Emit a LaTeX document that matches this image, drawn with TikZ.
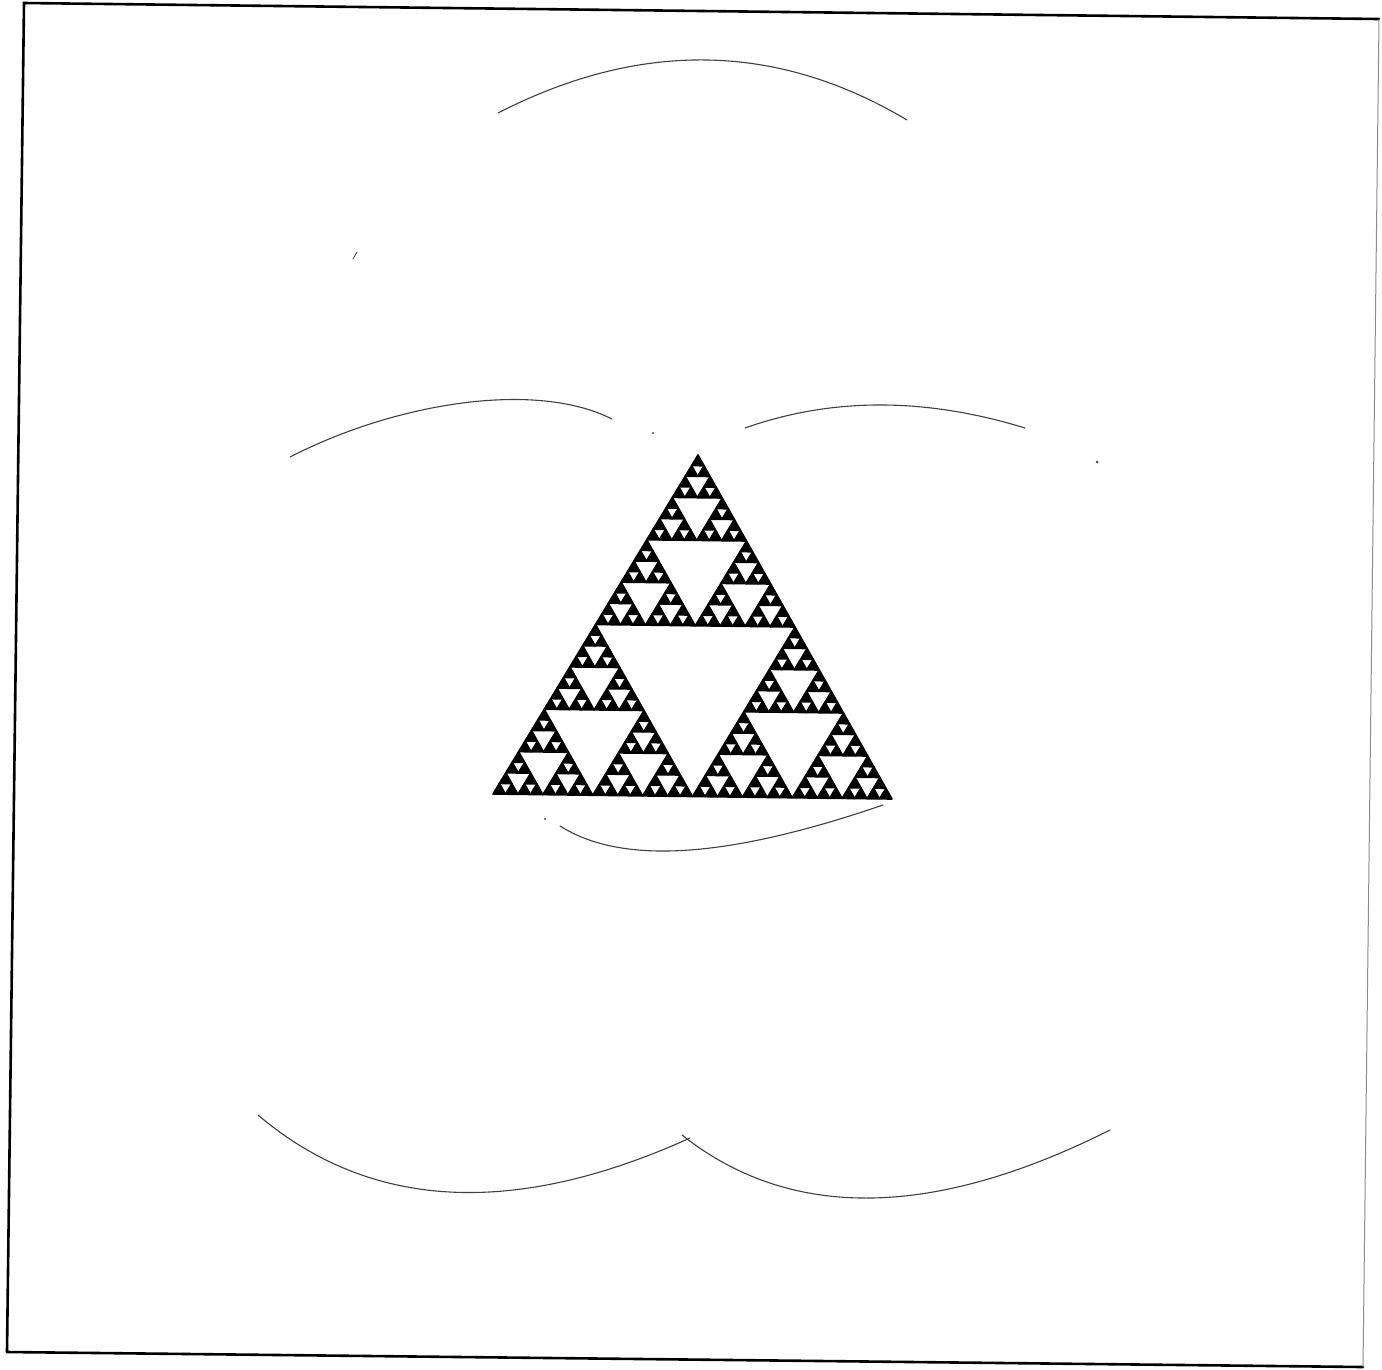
\documentclass[tikz,border=0pt]{standalone}
\begin{document}
\tikzset{
  sier/.style={fill=black,draw=black,line width=1.6pt,line join=round},
  faintarc/.style={draw=black!75,line width=1.1pt,line cap=round},
  framethick/.style={draw=black,line width=2.6pt,line cap=round},
  framethin/.style={draw=black!45,line width=1pt},
  speck/.style={fill=black!70}
}
\def\mysierp#1#2#3#4#5#6#7{%
  \ifnum#1=0\relax
    \path[sier] (#2,#3) -- (#4,#5) -- (#6,#7) -- cycle;
  \else
    \begingroup
    \pgfmathsetmacro\mABx{(#2+#4)/2}%
    \pgfmathsetmacro\mABy{(#3+#5)/2}%
    \pgfmathsetmacro\mBCx{(#4+#6)/2}%
    \pgfmathsetmacro\mBCy{(#5+#7)/2}%
    \pgfmathsetmacro\mCAx{(#6+#2)/2}%
    \pgfmathsetmacro\mCAy{(#7+#3)/2}%
    \edef\mylvl{\the\numexpr#1-1\relax}%
    \edef\mysierpnext{%
      \noexpand\mysierp{\mylvl}{#2}{#3}{\mABx}{\mABy}{\mCAx}{\mCAy}%
      \noexpand\mysierp{\mylvl}{\mABx}{\mABy}{#4}{#5}{\mBCx}{\mBCy}%
      \noexpand\mysierp{\mylvl}{\mCAx}{\mCAy}{\mBCx}{\mBCy}{#6}{#7}}%
    \mysierpnext
    \endgroup
  \fi}
\begin{tikzpicture}[x=1pt,y=-1pt]
  \useasboundingbox (0,0) rectangle (1382,1369);
  \fill[white] (0,0) rectangle (1382,1369);
  % frame corners
  \coordinate (TL) at (24,3);
  \coordinate (TR) at (1379,19);
  \coordinate (BR) at (1363,1367);
  \coordinate (BL) at (7,1352);
  \draw[framethick] (BL) -- (TL) -- (TR);
  \draw[framethick] (BL) -- (BR);
  \draw[framethin] (TR) -- (BR);
  % Sierpinski triangle
  \mysierp{5}{493}{794}{892}{799}{698}{455}
  % faint arcs
  \coordinate (ta) at (498,113); \coordinate (tb) at (907,120);
  \draw[faintarc] (ta) .. controls (640.3,40) and (776.7,42.3) .. (tb);
  \coordinate (la) at (290,457); \coordinate (lb) at (612,419);
  \draw[faintarc] (la) .. controls (395,403) and (535,380) .. (lb);
  \coordinate (ra) at (745,428); \coordinate (rb) at (1025,428);
  \draw[faintarc] (ra) .. controls (831.7,397.3) and (925,397.3) .. (rb);
  \coordinate (ma) at (560,826); \coordinate (mb) at (883,805);
  \draw[faintarc] (ma) .. controls (621.7,865) and (726.3,858.7) .. (mb);
  \coordinate (bla) at (258,1115); \coordinate (blb) at (690,1138);
  \draw[faintarc] (bla) .. controls (370,1210) and (514,1217.7) .. (blb);
  \coordinate (bra) at (682,1135); \coordinate (brb) at (1110,1130);
  \draw[faintarc] (bra) .. controls (790,1220.7) and (932.7,1219) .. (brb);
  % specks
  \fill[speck] (1097,462) circle (1.5);
  \fill[speck] (653,433) circle (1.2);
  \fill[speck] (545,819) circle (1.2);
  \draw[faintarc,line width=0.8pt] (353,259) -- (357,252);
\end{tikzpicture}
\end{document}
